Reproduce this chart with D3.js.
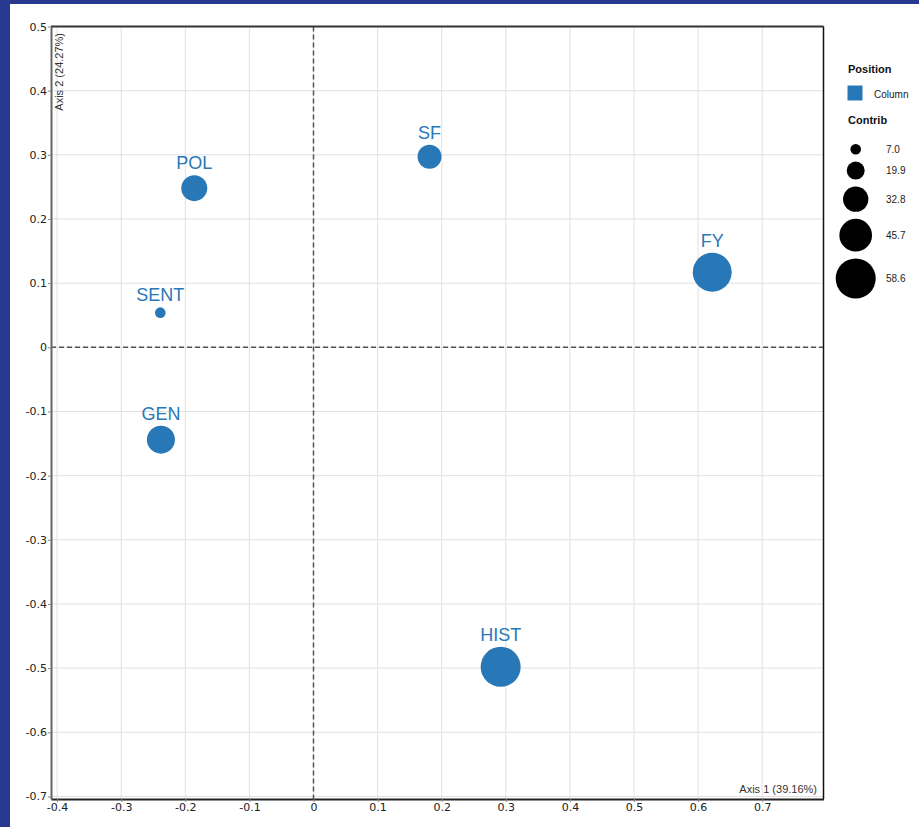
<!DOCTYPE html>
<html>
<head>
<meta charset="utf-8">
<script src="https://cdn.jsdelivr.net/npm/d3@7"></script>
<style>
  html, body { margin: 0; padding: 0; background: #2a3990; }
  svg { display: block; }
</style>
</head>
<body>
<script>
// Correspondence analysis: column categories on the first two axes
const categories = ["POL", "SF", "SENT", "GEN", "FY", "HIST"];
const axis1 = [-0.186, 0.181, -0.239, -0.238, 0.622, 0.292];
const axis2 = [0.248, 0.297, 0.054, -0.144, 0.117, -0.498];
const contrib = [34.0, 30.5, 7.0, 37.5, 56.8, 58.6];

const xTickValues = [-0.4, -0.3, -0.2, -0.1, 0, 0.1, 0.2, 0.3, 0.4, 0.5, 0.6, 0.7];
const xTickLabels = ["-0.4", "-0.3", "-0.2", "-0.1", "0", "0.1", "0.2", "0.3", "0.4", "0.5", "0.6", "0.7"];
const yTickValues = [0.5, 0.4, 0.3, 0.2, 0.1, 0, -0.1, -0.2, -0.3, -0.4, -0.5, -0.6, -0.7];
const yTickLabels = ["0.5", "0.4", "0.3", "0.2", "0.1", "0", "-0.1", "-0.2", "-0.3", "-0.4", "-0.5", "-0.6", "-0.7"];
const legendContrib = [7.0, 19.9, 32.8, 45.7, 58.6];
const axisTitles = ["Axis 1 (39.16%)", "Axis 2 (24.27%)"];

const W = 919, H = 827;
const plot = { left: 51, top: 26.5, right: 823.5, bottom: 799 };
const blue = "#2878b8";

const svg = d3.select("body").append("svg").attr("width", W).attr("height", H);

// white page panel
svg.append("rect").attr("x", 10).attr("y", 4).attr("width", W - 10).attr("height", H - 4).attr("fill", "#fff");

const x = d3.scaleLinear().domain([-0.4095, 0.7956]).range([plot.left, plot.right]);
const y = d3.scaleLinear().domain([-0.704, 0.5]).range([plot.bottom, plot.top]);
const r = d3.scaleLinear().domain([7.0, 58.6]).range([5.3, 20]);

// grid
const grid = svg.append("g");
grid.selectAll("line.vx").data(xTickValues).join("line")
  .attr("x1", d => x(d)).attr("x2", d => x(d))
  .attr("y1", plot.top).attr("y2", plot.bottom)
  .attr("stroke", "#e0e0e0").attr("stroke-width", 1);
grid.selectAll("line.hy").data(yTickValues).join("line")
  .attr("y1", d => y(d)).attr("y2", d => y(d))
  .attr("x1", plot.left).attr("x2", plot.right)
  .attr("stroke", "#e0e0e0").attr("stroke-width", 1);

// zero lines
svg.append("line").attr("x1", x(0)).attr("x2", x(0)).attr("y1", plot.top).attr("y2", plot.bottom)
  .attr("stroke", "#555").attr("stroke-width", 1.5).attr("stroke-dasharray", "5,3");
svg.append("line").attr("y1", y(0)).attr("y2", y(0)).attr("x1", plot.left).attr("x2", plot.right)
  .attr("stroke", "#555").attr("stroke-width", 1.5).attr("stroke-dasharray", "5,3");

// frame
svg.append("line").attr("x1", plot.left).attr("x2", plot.right).attr("y1", plot.top).attr("y2", plot.top)
  .attr("stroke", "#333").attr("stroke-width", 2);
svg.append("line").attr("x1", plot.right).attr("x2", plot.right).attr("y1", plot.top).attr("y2", plot.bottom)
  .attr("stroke", "#111").attr("stroke-width", 1.5);

// axes
const xAxis = d3.axisBottom(x).tickValues(xTickValues)
  .tickFormat((d, i) => xTickLabels[i]).tickSize(3).tickSizeOuter(0);
const gx = svg.append("g").attr("transform", `translate(0,${plot.bottom})`).call(xAxis);
gx.select(".domain").attr("stroke", "#222").attr("stroke-width", 2);
gx.selectAll(".tick line").attr("stroke", "#888");
gx.selectAll("text").attr("font-family", "DejaVu Sans").attr("font-size", 11).attr("fill", "#222").attr("dy", "0.55em");

const yAxis = d3.axisLeft(y).tickValues(yTickValues)
  .tickFormat((d, i) => yTickLabels[i]).tickSize(3).tickSizeOuter(0);
const gy = svg.append("g").attr("transform", `translate(${plot.left},0)`).call(yAxis);
gy.select(".domain").attr("stroke", "#666").attr("stroke-width", 2);
gy.selectAll(".tick line").attr("stroke", "#888");
gy.selectAll("text").attr("font-family", "DejaVu Sans").attr("font-size", 11).attr("fill", "#222").attr("x", -4);

// axis titles
svg.append("text").attr("x", 817).attr("y", 793).attr("text-anchor", "end")
  .attr("font-family", "Liberation Sans, Arial").attr("font-size", 11).attr("fill", "#333")
  .text(axisTitles[0]);
svg.append("text").attr("transform", "translate(63,33) rotate(-90)").attr("text-anchor", "end")
  .attr("font-family", "Liberation Sans, Arial").attr("font-size", 11).attr("fill", "#333")
  .text(axisTitles[1]);

// points
const pts = categories.map((c, i) => ({ c, a1: axis1[i], a2: axis2[i], v: contrib[i] }));
svg.append("g").selectAll("circle").data(pts).join("circle")
  .attr("cx", d => x(d.a1)).attr("cy", d => y(d.a2)).attr("r", d => r(d.v))
  .attr("fill", blue);
svg.append("g").selectAll("text").data(pts).join("text")
  .attr("x", d => x(d.a1)).attr("y", d => y(d.a2) - r(d.v) - 6)
  .attr("text-anchor", "middle")
  .attr("font-family", "Liberation Sans, Arial").attr("font-size", 18).attr("fill", blue)
  .text(d => d.c);

// legend
const lg = svg.append("g");
lg.append("text").attr("x", 848).attr("y", 73).attr("font-family", "Liberation Sans, Arial")
  .attr("font-size", 11).attr("font-weight", "bold").attr("fill", "#111").text("Position");
lg.append("rect").attr("x", 847.5).attr("y", 85.5).attr("width", 15).attr("height", 15).attr("fill", blue);
lg.append("text").attr("x", 874).attr("y", 97.5).attr("font-family", "Liberation Sans, Arial")
  .attr("font-size", 10).attr("fill", "#222").text("Column");
lg.append("text").attr("x", 848).attr("y", 124).attr("font-family", "Liberation Sans, Arial")
  .attr("font-size", 11).attr("font-weight", "bold").attr("fill", "#111").text("Contrib");

let cy = 149.3;
const legendItems = legendContrib.map((v, i) => {
  if (i > 0) cy += r(legendContrib[i - 1]) + 7 + r(v);
  return { v, cy };
});
lg.selectAll("circle").data(legendItems).join("circle")
  .attr("cx", 855.7).attr("cy", d => d.cy).attr("r", d => r(d.v)).attr("fill", "#000");
lg.selectAll("text.val").data(legendItems).join("text").attr("class", "val")
  .attr("x", 886).attr("y", d => d.cy + 3.5)
  .attr("font-family", "Liberation Sans, Arial").attr("font-size", 10).attr("fill", "#222")
  .text(d => d.v.toFixed(1));
</script>
</body>
</html>
